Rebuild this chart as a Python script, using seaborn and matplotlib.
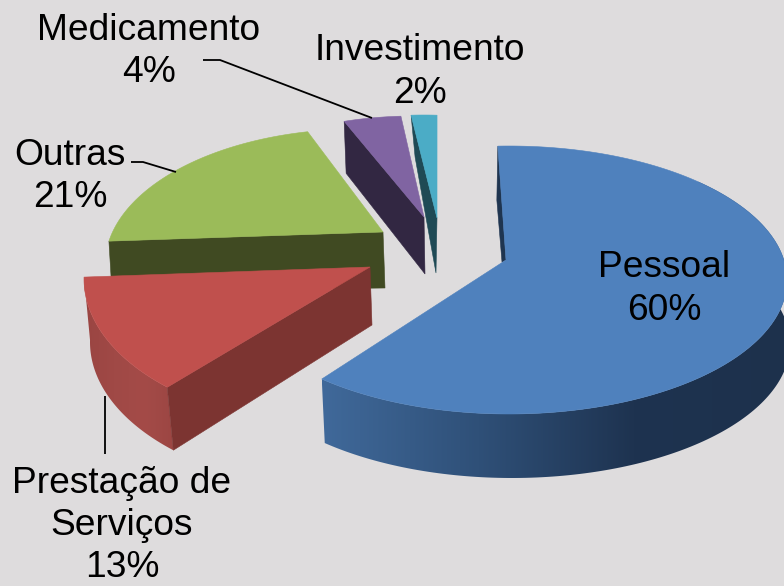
import numpy as np
import matplotlib
matplotlib.use("Agg")
import matplotlib.pyplot as plt
from matplotlib.patches import Polygon
import seaborn as sns

# ---- data
categories = ["Pessoal", "Prestação de\nServiços", "Outras", "Medicamento", "Investimento"]
values = [60, 13, 21, 4, 2]

# ---- colours
BG = "#dedcdd"
top_colors = ["#4f81bd", "#c0504d", "#9bbb59", "#8064a2", "#4bacc6"]
face_colors = ["#1f3550", "#7c3431", "#404a22", "#322742", "#1f4a55"]
curve_ramps = {0: ["#40699a", "#2f5078", "#1e3350", "#1d314c"],
               1: ["#9a4542", "#a04946", "#a44b48", "#9c4643"]}

# ---- layout of each exploded slice in the perspective view
# centre of projected rim ellipse, radii, apex, start angle, perspective warp, rim drop, apex drop
layout = [
    dict(c=(509, 280), r=(278, 134), apex=(506, 260), start=-2.3, warp=1.04, rim=(3, 64), tip=(-4, 2)),
    dict(c=(346, 279), r=(262, 148), apex=(370, 267), start=-137, warp=1.02, rim=(6, 63), tip=(2, 58)),
    dict(c=(358, 265), r=(253, 136), apex=(383, 232), start=-79.9, warp=0.905, rim=(3, 50), tip=(2, 56)),
    dict(c=(414, 255), r=(255, 139), apex=(424, 217), start=-15.9, warp=0.90, rim=(2, 52), tip=(1, 57)),
    dict(c=(424, 254), r=(255, 139), apex=(437, 218), start=-2.9, warp=0.81, rim=(4, 42), tip=(-1, 55)),
]
label_pos = [(664, 289), (122, 525.5), (70, 176.5), (149, 51.5), (420, 72)]
leaders = [[(203, 60), (220, 60), (372, 118)],
           [(131, 162), (143, 162), (176, 172)],
           [(105, 396), (105, 454)]]

sns.set_theme(style="white", rc={"figure.facecolor": BG, "axes.facecolor": BG})
plt.rcParams["font.family"] = ["Liberation Sans", "DejaVu Sans"]

fig = plt.figure(figsize=(7.84, 5.86), dpi=100)
ax = fig.add_axes([0, 0, 1, 1])
ax.set_xlim(0, 784)
ax.set_ylim(586, 0)
ax.axis("off")


def rim_points(s, value, n=200):
    t = np.radians(s["start"] + np.linspace(0, value * 3.6 * s["warp"], n))
    return np.column_stack([s["c"][0] + s["r"][0] * np.sin(t),
                            s["c"][1] - s["r"][1] * np.cos(t)])


def draw_curved_side(idx, pts, s):
    ramp = np.array(sns.blend_palette(curve_ramps[idx], n_colors=256))[None, :, :]
    low = pts + np.array(s["rim"])
    outline = np.vstack([pts, low[::-1]])
    xmin, xmax = outline[:, 0].min(), outline[:, 0].max()
    ymin, ymax = outline[:, 1].min(), outline[:, 1].max()
    clip = Polygon(outline, closed=True, transform=ax.transData, fc="none", ec="none")
    ax.add_patch(clip)
    im = ax.imshow(ramp, extent=(xmin, xmax, ymax, ymin), aspect="auto",
                   interpolation="bilinear", zorder=1)
    im.set_clip_path(clip)
    ax.set_xlim(0, 784)
    ax.set_ylim(586, 0)


def draw_slice(idx, z):
    s, v = layout[idx], values[idx]
    pts = rim_points(s, v)
    apex = np.array(s["apex"], float)
    rim = np.array(s["rim"], float)
    tip = apex + np.array(s["tip"], float)
    if idx == 0:
        back = [pts[0], pts[0] + (-1, 54), tip, apex]
        ax.fill(*zip(*back), color=face_colors[idx], lw=0.4, zorder=z)
        draw_curved_side(idx, pts[40:], s)
        ax.images[-1].set_zorder(z)
    else:
        if idx == 1:
            draw_curved_side(idx, pts, s)
            ax.images[-1].set_zorder(z)
        wall = [apex, pts[0], pts[0] + rim, tip]
        ax.fill(*zip(*wall), color=face_colors[idx], lw=0.4, zorder=z)
    top = np.vstack([apex, pts])
    ax.fill(top[:, 0], top[:, 1], color=top_colors[idx], lw=0.4, zorder=z + 0.5)


for z, i in enumerate([2, 1, 3, 4, 0], start=1):
    draw_slice(i, z)

for seg in leaders:
    xs, ys = zip(*seg)
    ax.plot(xs, ys, color="black", lw=1.3, solid_capstyle="butt", solid_joinstyle="round", zorder=10)

for name, v, (x, y) in zip(categories, values, label_pos):
    ax.text(x, y, f"{name}\n{v}%", ha="center", va="center", fontsize=26.7,
            color="black", linespacing=1.27, zorder=11)

fig.savefig("out.png", dpi=100, facecolor=BG)
